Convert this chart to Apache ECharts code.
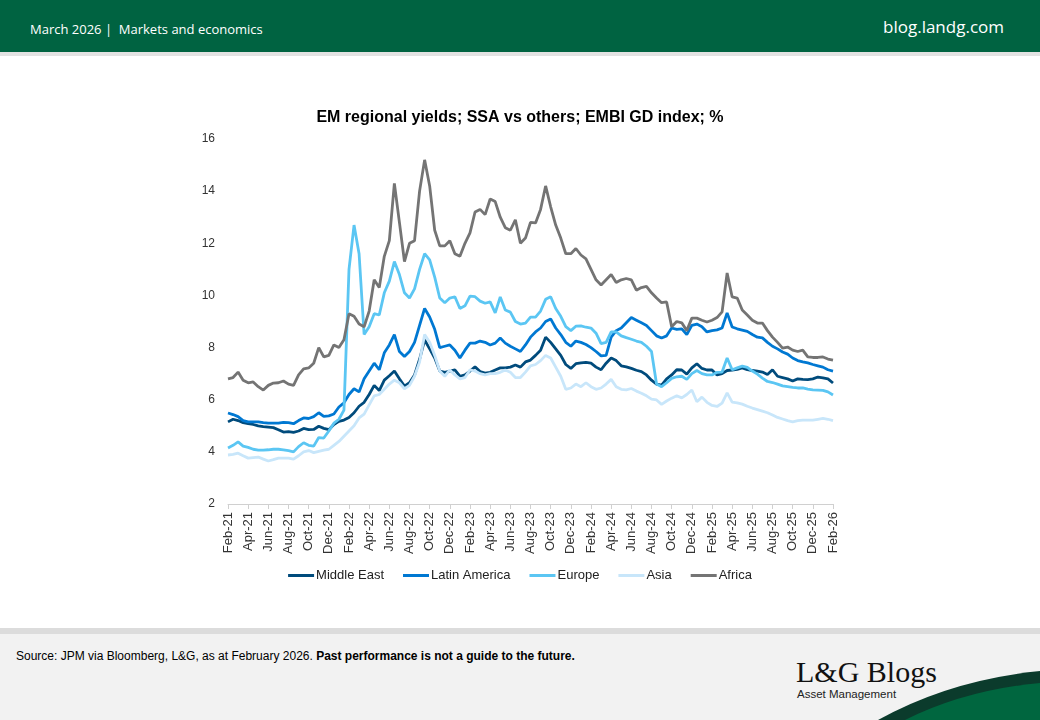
<!DOCTYPE html>
<html>
<head>
<meta charset="utf-8">
<script src="https://cdn.jsdelivr.net/npm/echarts@6/dist/echarts.min.js"></script>
<style>
  html, body { margin: 0; padding: 0; width: 1040px; height: 720px; overflow: hidden; background: #ffffff; font-family: "Liberation Sans", Arial, sans-serif; }
  #header { position: absolute; left: 0; top: 0; width: 1040px; height: 52px; background: #006341; }
  #header .l { position: absolute; left: 30px; top: 20px; color: #fff; font-family: "Open Sans", sans-serif; font-size: 13px; }
  #header .r { position: absolute; right: 36px; top: 15px; color: #fff; font-family: "Open Sans", sans-serif; font-size: 17px; }
  #hline { position: absolute; left: 0; top: 52px; width: 1040px; height: 4px; background: #e2e2e2; }
  #footer { position: absolute; left: 0; top: 628px; width: 1040px; height: 92px; background: #f2f2f2; border-top: 6px solid #dcdcdc; box-sizing: border-box; }
  #source { position: absolute; left: 16px; top: 649px; font-size: 12px; color: #000; font-family: "Liberation Sans", Arial, sans-serif; }
  #logo { position: absolute; left: 796px; top: 657px; font-family: "Liberation Serif", "Times New Roman", serif; font-size: 30px; color: #111; line-height: 30px; }
  #logosub { position: absolute; left: 797px; top: 688px; font-family: "Liberation Sans", Arial, sans-serif; font-size: 11.5px; color: #222; }
  #swoosh { position: absolute; left: 0; top: 0; }
  #chart { position: absolute; left: 0; top: 0; width: 1040px; height: 720px; }
</style>
</head>
<body>
<div id="header"><div class="l">March 2026 |&nbsp; Markets and economics</div><div class="r">blog.landg.com</div></div>
<div id="hline"></div>
<div id="footer"></div>
<div id="source">Source: JPM via Bloomberg, L&amp;G, as at February 2026. <b>Past performance is not a guide to the future.</b></div>
<div id="logo">L&amp;G Blogs</div>
<div id="logosub">Asset Management</div>
<svg id="swoosh" width="1040" height="720">
  <path d="M 878 720 Q 950 680 1040 671 L 1040 720 Z" fill="#0b3b2c"/>
  <path d="M 905 720 Q 965 690 1040 683 L 1040 720 Z" fill="#00663f"/>
</svg>
<div id="chart"></div>
<script>
// Tick labels (every 2 months), data is semi-monthly from Feb-21 to Feb-26
const tickLabels = ['Feb-21','Apr-21','Jun-21','Aug-21','Oct-21','Dec-21','Feb-22','Apr-22','Jun-22','Aug-22','Oct-22','Dec-22','Feb-23','Apr-23','Jun-23','Aug-23','Oct-23','Dec-23','Feb-24','Apr-24','Jun-24','Aug-24','Oct-24','Dec-24','Feb-25','Apr-25','Jun-25','Aug-25','Oct-25','Dec-25','Feb-26'];
const seriesNames = ['Middle East','Latin America','Europe','Asia','Africa'];

const middleEast = [5.15,5.25,5.2,5.12,5.08,5.05,5.0,4.97,4.95,4.93,4.85,4.76,4.78,4.75,4.8,4.9,4.85,4.86,4.98,4.9,
4.85,5.05,5.17,5.22,5.32,5.5,5.75,5.9,6.2,6.55,6.35,6.75,6.92,7.1,6.8,6.52,6.65,6.95,7.55,8.29,
7.95,7.6,7.1,7.05,7.1,7.14,6.9,6.95,7.1,7.26,7.08,7.02,7.05,7.14,7.22,7.22,7.25,7.33,7.25,7.45,
7.52,7.7,7.9,8.4,8.2,7.95,7.7,7.35,7.2,7.38,7.41,7.43,7.4,7.25,7.15,7.4,7.6,7.5,7.3,7.26,
7.2,7.13,7.08,6.95,6.75,6.6,6.56,6.8,6.95,7.15,7.14,6.98,7.22,7.38,7.2,7.14,7.14,6.95,7.0,7.12,
7.14,7.16,7.22,7.15,7.12,7.1,7.06,6.97,7.15,6.9,6.85,6.8,6.72,6.8,6.78,6.77,6.8,6.87,6.84,6.8,6.64];

const latinAmerica = [5.49,5.43,5.35,5.2,5.15,5.15,5.15,5.12,5.1,5.1,5.1,5.13,5.12,5.08,5.2,5.3,5.28,5.35,5.5,5.36,
5.38,5.45,5.72,5.88,6.2,6.42,6.3,6.8,7.1,7.4,7.15,7.8,8.1,8.5,7.85,7.66,7.85,8.2,8.85,9.5,
9.17,8.7,8.0,8.05,8.1,7.9,7.6,7.9,8.17,8.17,8.25,8.2,8.1,8.17,8.37,8.17,8.05,7.95,7.85,8.1,
8.4,8.6,8.75,9.0,9.1,8.75,8.5,8.2,8.05,8.25,8.2,8.12,8.0,7.85,7.68,7.7,8.4,8.65,8.75,8.95,
9.15,9.05,8.95,8.85,8.65,8.45,8.37,8.45,8.75,8.7,8.72,8.5,8.85,8.9,8.8,8.6,8.65,8.68,8.75,9.33,
8.79,8.72,8.67,8.62,8.5,8.4,8.37,8.2,8.05,7.95,7.83,7.75,7.6,7.5,7.45,7.41,7.35,7.3,7.25,7.15,7.1];

const europe = [4.15,4.25,4.38,4.22,4.17,4.1,4.07,4.07,4.08,4.1,4.1,4.08,4.05,4.0,4.2,4.35,4.25,4.22,4.55,4.53,
4.8,5.1,5.25,5.6,11.0,12.7,11.6,8.5,8.8,9.3,9.25,10.1,10.55,11.3,10.8,10.1,9.9,10.25,11.0,11.6,
11.36,10.7,9.9,9.72,9.9,9.95,9.5,9.6,9.97,9.95,9.78,9.7,9.75,9.33,9.94,9.44,9.36,9.0,8.9,8.94,
9.17,9.17,9.4,9.85,9.95,9.5,9.2,8.8,8.65,8.82,8.83,8.78,8.75,8.55,8.15,8.2,8.6,8.6,8.45,8.38,
8.32,8.25,8.2,8.05,7.85,6.6,6.5,6.65,6.82,6.88,6.9,6.78,7.0,7.12,7.0,6.95,6.95,7.05,7.06,7.6,
7.15,7.22,7.29,7.24,7.1,6.98,6.83,6.7,6.66,6.6,6.53,6.5,6.47,6.45,6.45,6.41,6.38,6.37,6.36,6.3,6.18];

const asia = [3.88,3.9,3.95,3.85,3.76,3.78,3.8,3.72,3.65,3.7,3.76,3.76,3.76,3.72,3.85,4.0,4.05,3.97,4.02,4.07,
4.1,4.25,4.4,4.6,4.8,5.0,5.3,5.45,5.8,6.15,6.2,6.4,6.6,6.75,6.65,6.42,6.55,6.9,7.45,8.5,
8.2,7.7,7.1,6.9,7.14,6.95,6.8,6.85,7.15,7.1,7.0,6.95,7.0,7.0,7.05,7.14,7.05,6.85,6.85,7.06,
7.3,7.35,7.5,7.7,7.6,7.25,6.9,6.4,6.45,6.6,6.5,6.65,6.5,6.4,6.45,6.6,6.78,6.5,6.4,6.38,
6.43,6.33,6.25,6.15,6.02,5.99,5.82,5.95,6.06,6.15,6.07,6.2,6.37,5.92,6.1,5.9,5.78,5.74,5.87,6.26,
5.91,5.88,5.83,5.75,5.68,5.62,5.56,5.5,5.41,5.32,5.26,5.2,5.15,5.2,5.22,5.22,5.22,5.25,5.28,5.25,5.2];

const africa = [6.8,6.85,7.06,6.75,6.65,6.68,6.5,6.37,6.55,6.64,6.65,6.72,6.6,6.55,6.95,7.18,7.22,7.4,8.0,7.64,
7.7,8.1,8.0,8.3,9.3,9.2,8.9,8.8,9.4,10.6,10.3,11.5,12.1,14.3,12.8,11.3,12.0,12.1,14.0,15.2,
14.2,12.5,11.9,11.9,12.1,11.6,11.5,12.0,12.4,13.2,13.3,13.1,13.7,13.6,13.0,12.6,12.5,12.9,12.0,12.2,
12.8,12.78,13.3,14.2,13.4,12.7,12.2,11.6,11.6,11.8,11.55,11.4,11.0,10.6,10.4,10.6,10.8,10.5,10.6,10.65,
10.6,10.2,10.3,10.35,10.1,9.9,9.72,9.75,8.8,9.0,8.95,8.65,9.13,9.13,9.05,8.98,9.05,9.15,9.37,10.86,
9.94,9.9,9.44,9.25,9.05,8.94,8.94,8.65,8.4,8.2,7.98,8.02,7.9,7.85,7.9,7.64,7.62,7.62,7.64,7.56,7.52];

const colors = ['#004B7C','#0078D2','#5BC6F3','#C8E6FA','#747474'];

// categories: each tick label month, plus a mid-month point between consecutive months
const monthNames = ['Jan','Feb','Mar','Apr','May','Jun','Jul','Aug','Sep','Oct','Nov','Dec'];
const categories = [];
for (let m = 0; m <= 60; m++) {
  const mi = (1 + m) % 12;
  const yy = 21 + Math.floor((1 + m) / 12);
  const lab = monthNames[mi] + '-' + yy;
  categories.push(lab);
  if (m < 60) categories.push('mid ' + lab);
}

const chart = echarts.init(document.getElementById('chart'), null, { renderer: 'canvas' });
const allData = [middleEast, latinAmerica, europe, asia, africa];
const font = '"Liberation Sans", Arial, sans-serif';

chart.setOption({
  backgroundColor: 'transparent',
  animation: false,
  title: {
    text: 'EM regional yields; SSA vs others; EMBI GD index; %',
    left: 'center',
    top: 105,
    textStyle: { fontFamily: font, fontSize: 16, fontWeight: 'bold', color: '#000' }
  },
  legend: {
    data: seriesNames,
    bottom: 133,
    left: 'center',
    icon: 'rect',
    itemWidth: 26,
    itemHeight: 3,
    itemGap: 19,
    textStyle: { fontFamily: font, fontSize: 13, color: '#222', padding: [0, 0, 0, -3] }
  },
  grid: { left: 228, right: 207, top: 139, bottom: 216, containLabel: false },
  xAxis: {
    type: 'category',
    data: categories,
    boundaryGap: false,
    axisLine: { lineStyle: { color: '#d0d0d0', width: 1 } },
    axisTick: { interval: 3, length: 5, lineStyle: { color: '#d0d0d0' } },
    axisLabel: {
      interval: 3,
      rotate: 90,
      fontFamily: font,
      fontSize: 13,
      color: '#333',
      margin: 8,
      formatter: function (v) { return v.indexOf('mid') === 0 ? '' : v; }
    },
    splitLine: { show: false }
  },
  yAxis: {
    type: 'value',
    min: 2,
    max: 16,
    interval: 2,
    axisLine: { show: false },
    axisTick: { show: false },
    splitLine: { show: false },
    axisLabel: { fontFamily: font, fontSize: 12, color: '#333', margin: 13 }
  },
  series: seriesNames.map((n, k) => ({
    name: n,
    type: 'line',
    data: allData[k],
    showSymbol: false,
    symbol: 'none',
    lineStyle: { width: 2.8, color: colors[k] },
    itemStyle: { color: colors[k] },
    z: 2 + k
  }))
});
</script>
</body>
</html>
